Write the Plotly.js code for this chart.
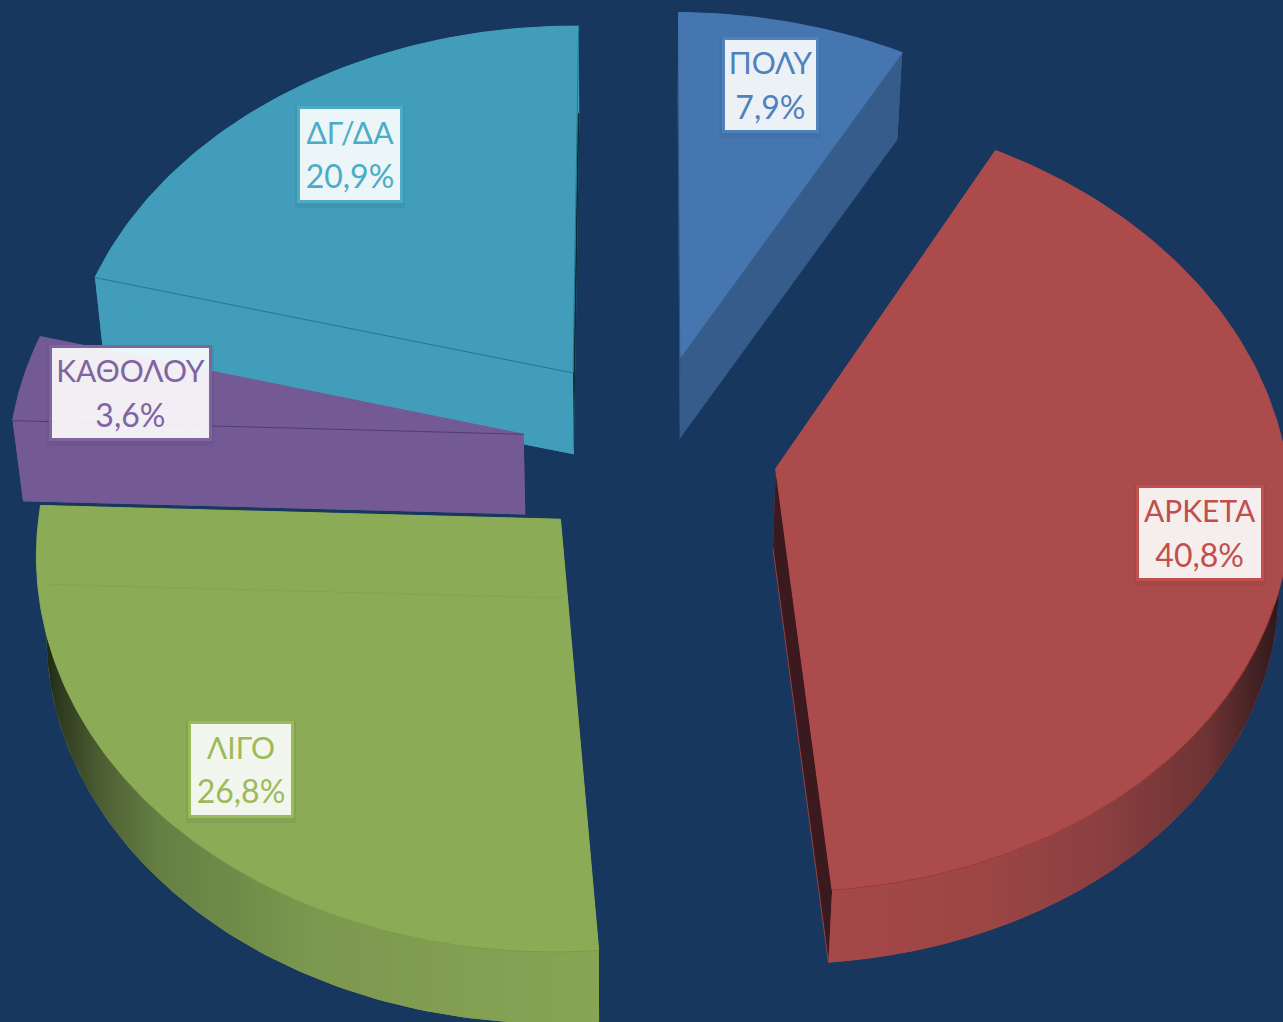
<!DOCTYPE html>
<html><head><meta charset="utf-8">
<script src="https://cdn.plot.ly/plotly-3.0.1.min.js"></script>
<style>html,body{margin:0;padding:0;background:#17375E;overflow:hidden}#c{width:1283px;height:1022px}</style>
</head><body><div id="c"></div>
<script>
// ---- data
const categories = ['ΠΟΛΥ','ΑΡΚΕΤΑ','ΛΙΓΟ','ΚΑΘΟΛΟΥ','ΔΓ/ΔΑ'];
const values = [7.9,40.8,26.8,3.6,20.9];
// ---- styles
const accent = ['#4F81BD','#C0504D','#9BBB59','#8064A2','#4BACC6'];
const faceColor = ['#4676B0','#AC4B4B','#8CAB56','#745A94','#419DB9'];
const startWallColor = ['#2F5585','#AC4B4B','#8CAB56','#745A94','#419DB9'];
const endWallColor = ['#355C8B','#3A1A1E','#8CAB56','#745A94','#0B2A35'];
const sideColor = ['#355C8B','#A44848','#87A553','#745A94','#419DB9'];
const seamColor = ['rgba(0,0,0,0)','rgba(190,70,70,0.7)','rgba(130,165,70,0.8)','rgba(70,50,100,0.75)','rgba(30,110,135,0.8)'];
const sideGradient = {
  1:[[0,'#A44848'],[0.35,'#9C4545'],[0.6,'#8A3F40'],[0.82,'#6E3334'],[0.95,'#3A1D20'],[1,'#201214']],
  2:[[0,'#141A0C'],[0.04,'#2E3A1E'],[0.12,'#4F6035'],[0.22,'#658043'],[0.5,'#7D984F'],[1,'#88A555']]
};
const labelCentre = [[770,85],[1200,533],[241,769.5],[130.5,393],[350,154.5]];
const labelSize = [[91,90],[122,90],[100,91],[157,90],[100,91]];
// ---- projection of the exploded disc
const centre = [650,448.5], scale = [512,386], persp = 0.08, perspU = 0.003, tilt = 1.5, explode = 0.25;
const vanish = [620,5100], depth = 0.0172;
function project(U,V){
  const w = 1 - persp*V + perspU*U;
  return [centre[0]+scale[0]*U/w, centre[1]+scale[1]*V/w+tilt*U];
}
function lower(p){ return [p[0]+depth*(vanish[0]-p[0]), p[1]+depth*(vanish[1]-p[1])]; }
function toRad(share){ return share/100*2*Math.PI; }

const traces = [];
function poly(pts,color,grad){
  const t = {x:pts.map(p=>p[0]),y:pts.map(p=>p[1]),mode:'lines',fill:'toself',
    line:{width:0,color:'rgba(0,0,0,0)'},hoverinfo:'skip',showlegend:false,type:'scatter'};
  if(grad){t.fillgradient={type:'horizontal',colorscale:grad};}else{t.fillcolor=color;}
  traces.push(t);
}
function path(pts,color,w){
  traces.push({x:pts.map(p=>p[0]),y:pts.map(p=>p[1]),mode:'lines',line:{width:w,color:color},
    hoverinfo:'skip',showlegend:false,type:'scatter'});
}
const starts=[]; values.reduce((s,v,i)=>{starts[i]=s;return s+v;},0);
const drawOrder=[4,3,0,2,1];
drawOrder.forEach(i=>{
  const a0=toRad(starts[i]), a1=toRad(starts[i]+values[i]), mid=(a0+a1)/2;
  const ox=explode*Math.sin(mid), oy=-explode*Math.cos(mid);
  const apex=project(ox,oy), arc=[];
  const n=Math.max(12,Math.round(values[i]*4));
  for(let k=0;k<=n;k++){const a=a0+(a1-a0)*k/n; arc.push(project(ox+Math.sin(a),oy-Math.cos(a)));}
  const apexB=lower(apex), arcB=arc.map(lower);
  const face=[apex,...arc,apex], faceB=[apexB,...arcB,apexB];
  poly(faceB,sideColor[i]);
  poly([apex,arc[0],arcB[0],apexB,apex],startWallColor[i]);
  poly([apex,arc[n],arcB[n],apexB,apex],endWallColor[i]);
  const side=[...arc,...arcB.slice().reverse(),arc[0]];
  if(sideGradient[i]) poly(side,null,sideGradient[i]); else poly(side,sideColor[i]);
  if(i===1) path([arcB[n],apexB],seamColor[i],1);
  poly(face,faceColor[i]);
  path(face,faceColor[i],1);
  if(i===2) path([arcB[n],apexB],seamColor[i],1);
  if(i===3) path([arc[0],apex],seamColor[i],1);
  if(i===4) path([arc[0],apex,arc[n]],seamColor[i],1);
  if(i===1) path(arc.slice(Math.round(n*0.55)),'rgba(150,50,50,0.7)',1);
  if(i===2) path(arc.slice(0,Math.round(n*0.5)),'rgba(115,150,60,0.7)',1);
});

const annotations = categories.map((c,i)=>({
  x:labelCentre[i][0],y:labelCentre[i][1],xref:'x',yref:'y',showarrow:false,
  text:'<span style="font-size:30px">'+c+'</span><br><span style="font-size:32px">'+values[i].toFixed(1).replace('.',',')+'%</span>',
  font:{family:'Lato, "Open Sans", sans-serif',size:34,color:accent[i]},
  bgcolor:'rgba(255,255,255,0.9)',bordercolor:accent[i],borderwidth:3,borderpad:0,
  width:labelSize[i][0],height:labelSize[i][1],align:'center',valign:'middle'
}));
const shapes = categories.map((c,i)=>({
  type:'rect',xref:'x',yref:'y',layer:'above',line:{width:0},fillcolor:'rgba(0,0,0,0.05)',
  x0:labelCentre[i][0]-labelSize[i][0]/2-5,x1:labelCentre[i][0]+labelSize[i][0]/2+5,
  y0:labelCentre[i][1]-labelSize[i][1]/2-3,y1:labelCentre[i][1]+labelSize[i][1]/2+8
}));

Plotly.newPlot('c',traces,{
  width:1283,height:1022,margin:{l:0,r:0,t:0,b:0},
  paper_bgcolor:'#17375E',plot_bgcolor:'#17375E',showlegend:false,
  xaxis:{range:[0,1283],visible:false,fixedrange:true},
  yaxis:{range:[1022,0],visible:false,fixedrange:true},
  annotations:annotations,shapes:shapes
},{displayModeBar:false,staticPlot:true});
</script></body></html>
